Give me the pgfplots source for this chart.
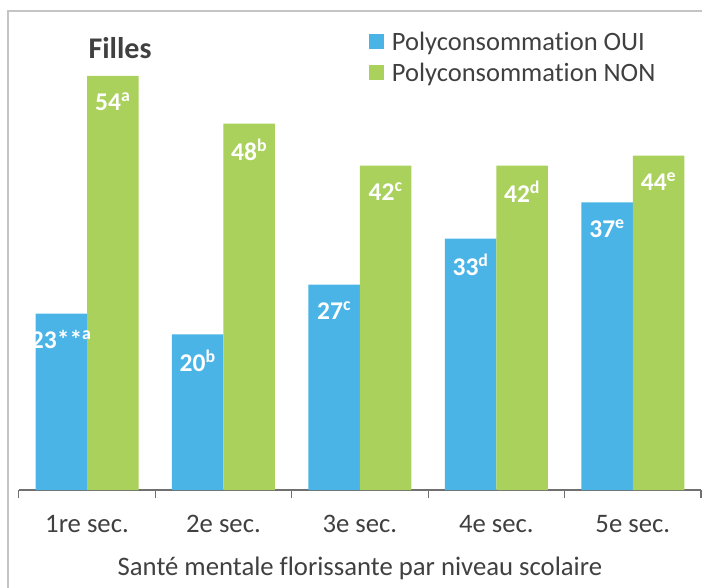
\documentclass[border=0pt]{standalone}
\usepackage{fontspec}
\setmainfont{Carlito}[Ligatures=NoCommon]
\usepackage{pgfplots}
\pgfplotsset{compat=1.18}
\definecolor{barblue}{HTML}{4BB4E6}
\definecolor{bargreen}{HTML}{A9D15B}
\definecolor{txt}{HTML}{404040}
\definecolor{framegray}{HTML}{C4C4C4}
\definecolor{axisgray}{HTML}{707070}
\begin{document}
\begin{tikzpicture}[x=1pt,y=1pt]
\useasboundingbox (0,0) rectangle (702,587);
\draw[framegray, line width=1.5pt] (8,-20) rectangle (730,576);
\begin{axis}[
    at={(18.8pt,97pt)}, anchor=south west,
    scale only axis, width=682.2pt, height=460pt,
    ybar=0pt, bar width=51.5pt,
    xmin=-0.5, xmax=4.5, ymin=0, ymax=60,
    axis x line=bottom, axis y line=none,
    axis line style={axisgray, line width=1.2pt, -},
    xtick={0,...,4},
    xticklabels={1re sec., 2e sec., 3e sec., 4e sec., 5e sec.},
    major tick length=0pt,
    minor xtick={-0.5,0.5,...,4.5},
    minor tick length=8pt,
    tick align=outside,
    minor tick style={axisgray, line width=1.2pt},
    xticklabel style={anchor=center, yshift=-34pt, text=txt, font=\fontsize{26.7}{32}\selectfont},
    xlabel={Santé mentale florissante par niveau scolaire},
    x label style={at={(axis description cs:0.5,0)}, anchor=center, yshift=-78pt, text=txt, font=\fontsize{26.7}{32}\selectfont},
    nodes near coords,
    point meta=explicit symbolic,
    every node near coord/.append style={anchor=center, yshift=-26pt, text=white, font=\fontsize{25.5}{30}\selectfont\bfseries},
    legend image code/.code={\fill[#1] (0pt,-7.5pt) rectangle (15pt,7.5pt);},
    legend cell align=left,
    legend style={at={(0.513,1.001)}, anchor=north west, draw=none, fill=none,
        inner sep=0pt, row sep=7pt, text=txt, font=\fontsize{26.5}{30}\selectfont,
        /tikz/every odd column/.append style={column sep=6pt}},
]
\addplot[fill=barblue, draw=none] coordinates {
    (0,23) [23**\textsuperscript{a}]
    (1,20.3) [20\textsuperscript{b}]
    (2,26.8) [27\textsuperscript{c}]
    (3,32.8) [33\textsuperscript{d}]
    (4,37.5) [37\textsuperscript{e}]
};
\addlegendentry{Polyconsommation OUI}
\addplot[fill=bargreen, draw=none] coordinates {
    (0,54) [54\textsuperscript{a}]
    (1,47.8) [48\textsuperscript{b}]
    (2,42.3) [42\textsuperscript{c}]
    (3,42.3) [42\textsuperscript{d}]
    (4,43.6) [44\textsuperscript{e}]
};
\addlegendentry{Polyconsommation NON}
\end{axis}
\node[text=txt, font=\fontsize{30}{36}\selectfont\bfseries] at (120,539) {Filles};
\end{tikzpicture}
\end{document}
